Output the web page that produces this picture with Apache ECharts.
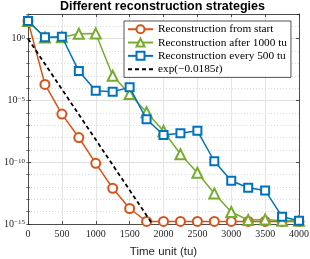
<!DOCTYPE html>
<html><head><meta charset="utf-8">
<script src="https://cdn.jsdelivr.net/npm/echarts@6/dist/echarts.min.js"></script>
<style>html,body{margin:0;padding:0;background:#fff}#c{width:310px;height:259px}</style>
</head><body><div id="c"></div>
<script>
const times = [0,250,500,750,1000,1250,1500,1750,2000,2250,2500,2750,3000,3250,3500,3750,4000];
const fromStart = [2.7e1,2.0e-4,7.9e-7,1.0e-8,8.1e-11,7.8e-13,1.8e-14,1.6e-15,1.6e-15,1.6e-15,1.6e-15,1.6e-15,1.6e-15,1.6e-15,1.6e-15,1.6e-15,1.6e-15];
const after1000 = [2.7e1,1.26,1.3,2.5,2.6,1.0e-3,3.3e-5,1.1e-6,3.4e-8,4.4e-10,1.4e-11,3.0e-13,9.3e-15,2.1e-15,2.3e-15,1.8e-15,1.8e-15];
const every500 = [2.7e1,1.3,1.45,2.4e-3,6.2e-5,5.1e-5,1.15e-4,3.0e-7,1.6e-8,2.2e-8,3.5e-8,1.2e-10,3.2e-12,8.7e-13,5.2e-13,3.9e-15,1.8e-15];
const expRefT = [0,1835];
const expRefV = [1,1e-15];
const xTicks = [0,500,1000,1500,2000,2500,3000,3500,4000];
const yTickExps = [-15,-10,-5,0];
const names = ['Reconstruction from start','Reconstruction after 1000 tu','Reconstruction every 500 tu','exp(−0.0185t)'];

const AX = '#262626';
const SERIF = '"Liberation Serif","DejaVu Serif",serif';
const SANS = '"Liberation Sans",Arial,sans-serif';
const pair = (xs, ys) => xs.map((x,i)=>[x, ys[i]]);
const grid = {left:28, right:11, top:14, bottom:35, containLabel:false, outerBoundsMode:'none'};
const ymin = 1e-15, ymax = 1e2;

const chart = echarts.init(document.getElementById('c'), null, {renderer:'canvas'});
const supFmt = v => {
  const e = Math.round(Math.log10(v));
  if (yTickExps.indexOf(e) < 0) return '';
  return '{b|10}{s|' + (e < 0 ? '−' + (-e) : e) + '}';
};
chart.setOption({
  animation:false,
  backgroundColor:'#fff',
  title:{text:'Different reconstruction strategies', left:60, top:0, padding:0,
    textStyle:{fontFamily:SANS, fontWeight:'bold', fontSize:12.5, color:'#000'}},
  grid: grid,
  legend:{
    orient:'vertical', left:124, top:21, padding:[2,4,2,3], itemGap:0.8,
    itemWidth:25, itemHeight:10, backgroundColor:'#fff', borderColor:AX, borderWidth:0.8, borderRadius:0,
    data:names,
    formatter: n => n.indexOf('exp') === 0 ? '{n|exp(−0.0185}{i|t}{n|)}' : n,
    textStyle:{fontFamily:SERIF, fontSize:11.3, color:'#000', lineHeight:12.5,
      rich:{n:{fontFamily:SERIF, fontSize:11.3, color:'#000'}, i:{fontFamily:SERIF, fontStyle:'italic', fontSize:11.3, color:'#000'}}}
  },
  xAxis:[
    {type:'value', min:0, max:4000, interval:500, position:'bottom',
      name:'Time unit (tu)', nameLocation:'middle', nameGap:22,
      nameTextStyle:{fontFamily:SANS, fontSize:11.5, color:AX},
      axisLine:{show:true, lineStyle:{color:AX, width:0.8}},
      axisTick:{show:true, inside:true, length:3, lineStyle:{color:AX, width:0.8}},
      axisLabel:{fontFamily:SERIF, fontSize:10, color:AX, margin:5, formatter: v => xTicks.indexOf(v) >= 0 ? String(v) : ''},
      splitLine:{show:true, lineStyle:{color:'#dedede', width:0.8}}},
    {type:'value', min:0, max:4000, interval:500, position:'top',
      axisLine:{show:true, onZero:false, lineStyle:{color:AX, width:0.8}},
      axisTick:{show:true, inside:true, length:3, lineStyle:{color:AX, width:0.8}},
      axisLabel:{show:false}, splitLine:{show:false}}
  ],
  yAxis:[
    {type:'log', logBase:10, min:ymin, max:ymax, interval:5, position:'left',
      axisLine:{show:true, onZero:false, lineStyle:{color:AX, width:0.8}},
      axisTick:{show:true, inside:true, length:3, lineStyle:{color:AX, width:0.8}},
      axisLabel:{color:AX, margin:3, formatter:supFmt,
        rich:{b:{fontFamily:SERIF, fontSize:10, lineHeight:10, padding:[3,0,0,0], verticalAlign:'bottom', color:AX},
              s:{fontFamily:SERIF, fontSize:7, lineHeight:7, verticalAlign:'top', color:AX}}},
      splitLine:{show:true, lineStyle:{color:'#dedede', width:0.8}}},
    {type:'log', logBase:10, min:ymin, max:ymax, interval:1, position:'left',
      axisLine:{show:false},
      axisTick:{show:true, inside:true, length:1.8, lineStyle:{color:AX, width:0.6}},
      axisLabel:{show:false},
      splitLine:{show:true, lineStyle:{color:'#d0d0d0', width:0.8, type:[1,2]}}},
    {type:'log', logBase:10, min:ymin, max:ymax, interval:5, position:'right',
      axisLine:{show:true, onZero:false, lineStyle:{color:AX, width:0.8}},
      axisTick:{show:true, inside:true, length:3, lineStyle:{color:AX, width:0.8}},
      axisLabel:{show:false}, splitLine:{show:false}},
    {type:'log', logBase:10, min:ymin, max:ymax, interval:1, position:'right',
      axisLine:{show:false},
      axisTick:{show:true, inside:true, length:1.8, lineStyle:{color:AX, width:0.6}},
      axisLabel:{show:false}, splitLine:{show:false}}
  ],
  series:[
    {name:names[0], type:'line', data:pair(times, fromStart), symbol:'emptyCircle', symbolSize:9,
      lineStyle:{color:'#D95319', width:1.5}, itemStyle:{color:'#D95319', borderWidth:1.5}, z:3},
    {name:names[1], type:'line', data:pair(times, after1000), symbol:'emptyTriangle', symbolSize:10,
      lineStyle:{color:'#77AC30', width:1.5}, itemStyle:{color:'#77AC30', borderWidth:1.5}, z:4},
    {name:names[2], type:'line', data:pair(times, every500), symbol:'emptyRect', symbolSize:8,
      lineStyle:{color:'#0072BD', width:1.5}, itemStyle:{color:'#0072BD', borderWidth:1.5}, z:5},
    {name:names[3], type:'line', data:pair(expRefT, expRefV), symbol:'none',
      lineStyle:{color:'#000', width:1.8, type:[4,3]}, itemStyle:{color:'rgba(0,0,0,0)', borderColor:'rgba(0,0,0,0)', borderWidth:0}, z:6}
  ]
});
</script></body></html>
